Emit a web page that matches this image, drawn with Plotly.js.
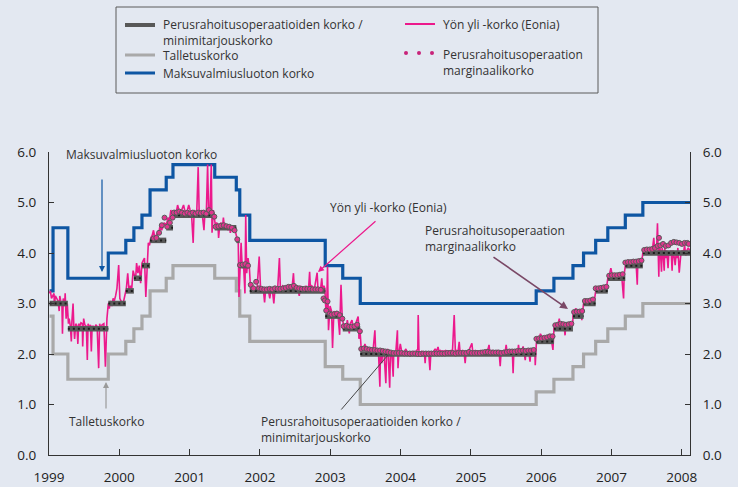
<!DOCTYPE html>
<html><head><meta charset="utf-8">
<script src="https://cdn.plot.ly/plotly-3.0.1.min.js"></script>
<style>html,body{margin:0;padding:0;background:#e3e8f1;}#chart{width:738px;height:487px;}</style>
</head><body><div id="chart"></div>
<script>
// ---------------- DATA ----------------
const yearTicks = ["1999-01-01","2000-01-01","2001-01-01","2002-01-01","2003-01-01","2004-01-01","2005-01-01","2006-01-01","2007-01-01","2008-01-01"];
const yearLabels = ["1999","2000","2001","2002","2003","2004","2005","2006","2007","2008"];
const rateTicks = [0,1,2,3,4,5,6];
const chartStart = "1999-01-01";
const chartEnd = "2008-02-13";

// Main refinancing rate (Perusrahoitusoperaatioiden korko / minimitarjouskorko)
const mroDates = ["1999-01-04","1999-04-09","1999-11-05","2000-02-04","2000-03-17","2000-04-28","2000-06-09","2000-09-01","2000-10-06","2001-05-11","2001-08-31","2001-09-18","2001-11-09","2002-12-06","2003-03-07","2003-06-06","2005-12-06","2006-03-08","2006-06-15","2006-08-09","2006-10-11","2006-12-13","2007-03-14","2007-06-13"];
const mroRates = [3.00,2.50,3.00,3.25,3.50,3.75,4.25,4.50,4.75,4.50,4.25,3.75,3.25,2.75,2.50,2.00,2.25,2.50,2.75,3.00,3.25,3.50,3.75,4.00];

// Deposit facility (Talletuskorko) and marginal lending facility (Maksuvalmiusluoton korko)
const corridorDates = ["1999-01-04","1999-01-22","1999-04-09","1999-11-05","2000-02-04","2000-03-17","2000-04-28","2000-06-09","2000-09-01","2000-10-06","2001-05-11","2001-08-31","2001-09-18","2001-11-09","2002-12-06","2003-03-07","2003-06-06","2005-12-06","2006-03-08","2006-06-15","2006-08-09","2006-10-11","2006-12-13","2007-03-14","2007-06-13"];
const depositRates = [2.75,2.00,1.50,2.00,2.25,2.50,2.75,3.25,3.50,3.75,3.50,3.25,2.75,2.25,1.75,1.50,1.00,1.25,1.50,1.75,2.00,2.25,2.50,2.75,3.00];
const lendingRates = [3.25,4.50,3.50,4.00,4.25,4.50,4.75,5.25,5.50,5.75,5.50,5.25,4.75,4.25,3.75,3.50,3.00,3.25,3.50,3.75,4.00,4.25,4.50,4.75,5.00];

// Eonia (Yön yli -korko)
const eonia = [
["1999-01-04",3.20],["1999-01-08",3.25],["1999-01-14",3.10],["1999-01-20",3.15],["1999-01-27",3.20],["1999-01-29",2.95],
["1999-02-03",3.15],["1999-02-10",3.10],["1999-02-17",3.05],["1999-02-23",2.85],["1999-02-26",3.15],
["1999-03-03",3.05],["1999-03-09",3.00],["1999-03-12",2.40],["1999-03-16",3.10],["1999-03-23",2.95],["1999-03-26",3.20],["1999-03-31",2.70],
["1999-04-06",3.00],["1999-04-12",2.60],["1999-04-16",2.70],["1999-04-22",2.55],["1999-04-27",2.25],["1999-04-30",2.65],
["1999-05-06",3.00],["1999-05-10",2.55],["1999-05-14",2.30],["1999-05-20",2.60],["1999-05-26",2.55],["1999-05-31",2.20],
["1999-06-04",2.60],["1999-06-10",2.55],["1999-06-16",2.62],["1999-06-23",2.60],["1999-06-25",2.15],["1999-06-30",2.70],
["1999-07-06",2.58],["1999-07-14",2.55],["1999-07-19",1.88],["1999-07-23",2.60],["1999-07-30",2.50],
["1999-08-04",2.58],["1999-08-09",2.05],["1999-08-13",2.55],["1999-08-20",2.55],["1999-08-27",2.50],
["1999-09-01",2.58],["1999-09-08",2.55],["1999-09-16",1.72],["1999-09-21",2.60],["1999-09-28",2.50],
["1999-10-04",2.58],["1999-10-13",2.60],["1999-10-21",1.75],["1999-10-25",2.55],["1999-10-29",2.70],
["1999-11-05",3.00],["1999-11-10",2.90],["1999-11-17",3.05],["1999-11-24",2.95],["1999-11-30",3.10],
["1999-12-06",3.05],["1999-12-13",3.15],["1999-12-20",3.30],["1999-12-29",3.76],
["2000-01-04",3.10],["2000-01-10",3.05],["2000-01-17",3.00],["2000-01-24",3.05],["2000-01-31",3.20],
["2000-02-07",3.30],["2000-02-14",3.60],["2000-02-21",3.25],["2000-02-28",3.35],
["2000-03-06",3.30],["2000-03-13",3.65],["2000-03-20",3.55],["2000-03-27",3.55],["2000-03-31",3.80],
["2000-04-07",3.60],["2000-04-14",3.75],["2000-04-21",3.40],["2000-04-28",3.80],
["2000-05-04",3.85],["2000-05-11",3.90],["2000-05-18",3.13],["2000-05-25",3.90],["2000-05-31",4.20],
["2000-06-06",4.15],["2000-06-13",4.30],["2000-06-20",4.35],["2000-06-27",4.45],
["2000-07-04",4.30],["2000-07-11",4.35],["2000-07-18",4.40],["2000-07-25",4.40],["2000-07-31",4.55],
["2000-08-07",4.45],["2000-08-14",4.50],["2000-08-21",4.60],["2000-08-28",4.55],
["2000-09-04",4.60],["2000-09-11",4.70],["2000-09-18",4.65],["2000-09-25",4.85],
["2000-10-02",4.75],["2000-10-09",4.80],["2000-10-16",4.85],["2000-10-23",4.80],["2000-10-30",4.95],
["2000-11-06",4.85],["2000-11-13",4.80],["2000-11-20",4.85],["2000-11-27",4.90],["2000-11-30",4.95],
["2000-12-06",4.85],["2000-12-13",4.80],["2000-12-20",4.85],["2000-12-27",4.95],
["2001-01-03",4.85],["2001-01-10",4.80],["2001-01-19",4.20],["2001-01-24",4.85],["2001-01-31",4.80],
["2001-02-07",4.85],["2001-02-14",5.70],["2001-02-19",4.85],["2001-02-26",4.80],
["2001-03-05",4.85],["2001-03-16",4.45],["2001-03-21",4.80],["2001-03-28",4.75],
["2001-04-04",5.75],["2001-04-09",4.85],["2001-04-17",4.90],["2001-04-23",5.75],["2001-04-27",4.40],
["2001-05-04",4.85],["2001-05-14",4.55],["2001-05-21",4.60],["2001-05-28",4.55],["2001-05-31",4.30],
["2001-06-06",4.55],["2001-06-13",4.60],["2001-06-20",4.50],["2001-06-25",4.70],["2001-06-29",4.55],
["2001-07-05",4.50],["2001-07-12",4.55],["2001-07-19",4.45],["2001-07-26",4.55],["2001-07-31",4.40],
["2001-08-07",4.50],["2001-08-14",4.55],["2001-08-21",4.45],["2001-08-28",4.40],
["2001-09-03",4.30],["2001-09-10",4.25],["2001-09-14",3.13],["2001-09-20",3.80],["2001-09-25",4.20],
["2001-10-01",3.70],["2001-10-08",3.75],["2001-10-15",3.20],["2001-10-19",4.75],["2001-10-24",3.60],["2001-10-31",3.90],
["2001-11-07",3.70],["2001-11-13",3.30],["2001-11-20",3.25],["2001-11-27",3.35],
["2001-12-04",3.30],["2001-12-11",3.25],["2001-12-18",3.35],["2001-12-28",3.93],
["2002-01-04",3.30],["2002-01-11",3.25],["2002-01-18",3.30],["2002-01-25",3.02],["2002-01-31",3.30],
["2002-02-07",3.28],["2002-02-14",3.25],["2002-02-21",3.10],["2002-02-28",3.30],
["2002-03-07",3.25],["2002-03-14",3.00],["2002-03-20",3.30],["2002-03-27",3.25],
["2002-04-03",3.30],["2002-04-12",3.90],["2002-04-17",3.30],["2002-04-22",3.28],["2002-04-29",3.35],
["2002-05-06",3.32],["2002-05-13",3.30],["2002-05-20",3.30],["2002-05-27",3.35],
["2002-06-03",3.30],["2002-06-10",3.35],["2002-06-17",3.32],["2002-06-24",3.60],["2002-06-28",3.30],
["2002-07-03",3.32],["2002-07-10",3.35],["2002-07-17",3.30],["2002-07-24",3.15],["2002-07-31",3.35],
["2002-08-07",3.30],["2002-08-14",3.32],["2002-08-21",3.30],["2002-08-28",3.35],
["2002-09-04",3.30],["2002-09-11",3.32],["2002-09-16",3.63],["2002-09-20",3.30],["2002-09-27",3.35],
["2002-10-04",3.32],["2002-10-11",3.30],["2002-10-25",3.61],["2002-10-29",3.30],
["2002-11-06",3.30],["2002-11-13",3.32],["2002-11-18",3.50],["2002-11-22",3.30],["2002-11-29",3.35],
["2002-12-04",3.30],["2002-12-09",2.90],["2002-12-13",2.85],["2002-12-18",3.73],["2002-12-23",2.47],["2002-12-31",2.95],
["2003-01-08",2.85],["2003-01-13",2.12],["2003-01-20",2.85],["2003-01-27",2.80],
["2003-02-03",2.85],["2003-02-10",2.80],["2003-02-19",2.38],["2003-02-22",2.85],["2003-02-26",3.37],
["2003-03-04",2.75],["2003-03-10",2.60],["2003-03-17",2.55],["2003-03-24",2.50],["2003-03-31",2.67],
["2003-04-04",2.55],["2003-04-10",2.41],["2003-04-15",2.60],["2003-04-24",2.67],["2003-04-29",2.55],
["2003-05-06",2.55],["2003-05-13",2.60],["2003-05-26",2.74],["2003-05-29",2.55],["2003-05-30",2.30],
["2003-06-05",2.45],["2003-06-11",2.10],["2003-06-18",2.15],["2003-06-25",2.10],["2003-06-30",2.20],
["2003-07-07",2.10],["2003-07-14",2.05],["2003-07-21",2.10],["2003-07-28",2.05],
["2003-08-04",2.10],["2003-08-11",2.05],["2003-08-21",2.47],["2003-08-25",2.05],
["2003-09-01",2.05],["2003-09-08",2.10],["2003-09-16",1.35],["2003-09-19",2.05],["2003-09-26",1.82],["2003-09-30",2.05],
["2003-10-07",2.05],["2003-10-17",1.42],["2003-10-21",2.05],["2003-10-28",2.10],
["2003-11-06",1.33],["2003-11-10",2.05],["2003-11-17",2.00],["2003-11-24",1.55],["2003-11-27",2.05],
["2003-12-01",2.00],["2003-12-08",2.05],["2003-12-16",2.47],["2003-12-19",1.72],["2003-12-23",2.00],["2003-12-31",2.20],
["2004-01-07",2.05],["2004-01-14",2.00],["2004-01-21",2.05],["2004-01-29",2.10],
["2004-02-05",2.02],["2004-02-12",2.05],["2004-02-20",1.95],["2004-02-25",2.05],
["2004-03-03",2.02],["2004-03-10",2.05],["2004-03-17",2.02],["2004-03-24",2.05],["2004-03-31",2.10],
["2004-04-02",2.77],["2004-04-06",2.05],["2004-04-13",2.02],["2004-04-20",2.05],["2004-04-27",2.00],
["2004-05-04",2.05],["2004-05-08",1.82],["2004-05-12",2.05],["2004-05-19",2.02],["2004-05-26",2.05],
["2004-06-02",1.68],["2004-06-07",2.05],["2004-06-14",2.03],["2004-06-21",2.05],["2004-06-29",2.10],
["2004-07-06",2.05],["2004-07-14",2.14],["2004-07-19",2.05],["2004-07-26",2.07],
["2004-08-02",2.05],["2004-08-09",2.06],["2004-08-16",2.05],["2004-08-23",2.07],["2004-08-30",2.05],
["2004-09-06",2.06],["2004-09-13",2.05],["2004-09-20",2.07],["2004-09-27",2.05],
["2004-10-06",2.77],["2004-10-09",2.06],["2004-10-12",2.05],["2004-10-19",2.07],["2004-10-26",2.05],
["2004-11-01",2.24],["2004-11-05",2.06],["2004-11-12",2.05],["2004-11-19",2.07],["2004-11-26",2.05],
["2004-12-02",1.82],["2004-12-07",2.06],["2004-12-14",2.05],["2004-12-21",2.07],["2004-12-31",2.15],
["2005-01-06",2.21],["2005-01-10",2.06],["2005-01-17",2.05],["2005-01-24",2.07],["2005-01-31",2.05],
["2005-02-07",2.06],["2005-02-14",2.05],["2005-02-21",2.07],["2005-02-28",2.05],
["2005-03-07",2.06],["2005-03-14",2.05],["2005-03-21",2.07],["2005-03-31",2.10],
["2005-04-05",2.18],["2005-04-08",2.06],["2005-04-15",2.05],["2005-04-22",2.07],["2005-04-29",2.05],
["2005-05-06",2.06],["2005-05-13",2.05],["2005-05-20",2.07],["2005-05-27",2.05],
["2005-06-02",1.76],["2005-06-07",2.06],["2005-06-14",2.05],["2005-06-21",2.07],["2005-06-28",2.05],
["2005-07-03",2.18],["2005-07-07",2.06],["2005-07-14",2.05],["2005-07-21",2.07],["2005-07-28",2.05],
["2005-08-04",2.06],["2005-08-08",1.62],["2005-08-12",2.06],["2005-08-19",2.05],["2005-08-26",2.07],
["2005-09-02",2.05],["2005-09-05",2.18],["2005-09-09",2.06],["2005-09-16",2.05],["2005-09-23",2.07],["2005-09-29",2.15],
["2005-10-03",2.06],["2005-10-10",1.88],["2005-10-14",2.06],["2005-10-21",2.07],["2005-10-28",2.06],
["2005-11-04",1.85],["2005-11-08",2.07],["2005-11-15",2.06],["2005-11-22",2.08],["2005-11-29",2.10],
["2005-12-01",1.78],["2005-12-05",2.05],["2005-12-08",2.30],["2005-12-14",2.28],["2005-12-21",2.30],["2005-12-28",2.40],
["2006-01-04",2.35],["2006-01-11",2.30],["2006-01-18",2.32],["2006-01-25",2.30],
["2006-02-01",2.35],["2006-02-08",2.30],["2006-02-15",2.32],["2006-02-22",2.30],
["2006-03-03",2.08],["2006-03-06",2.30],["2006-03-09",2.55],["2006-03-16",2.58],["2006-03-22",2.60],["2006-03-29",2.58],
["2006-04-05",2.70],["2006-04-07",2.60],["2006-04-14",2.60],["2006-04-21",2.55],["2006-04-28",2.62],
["2006-05-05",2.37],["2006-05-09",2.60],["2006-05-16",2.58],["2006-05-23",2.60],["2006-05-30",2.62],
["2006-06-06",2.58],["2006-06-13",2.55],["2006-06-16",2.82],["2006-06-23",2.85],["2006-06-30",2.90],
["2006-07-07",2.82],["2006-07-14",2.85],["2006-07-21",2.82],["2006-07-28",2.85],["2006-07-31",2.67],
["2006-08-04",2.85],["2006-08-09",3.00],["2006-08-16",3.05],["2006-08-23",3.08],["2006-08-30",3.05],
["2006-09-06",3.07],["2006-09-13",3.05],["2006-09-20",3.08],["2006-09-27",3.10],
["2006-10-04",3.05],["2006-10-11",3.25],["2006-10-18",3.30],["2006-10-25",3.32],
["2006-11-01",3.30],["2006-11-08",3.32],["2006-11-15",3.30],["2006-11-22",3.32],["2006-11-29",3.35],
["2006-12-06",3.30],["2006-12-13",3.50],["2006-12-20",3.55],["2006-12-29",3.70],
["2007-01-05",3.56],["2007-01-12",3.55],["2007-01-19",3.58],["2007-01-26",3.56],
["2007-02-02",3.57],["2007-02-09",3.56],["2007-02-16",3.58],["2007-02-23",3.55],
["2007-03-05",3.10],["2007-03-08",3.57],["2007-03-14",3.75],["2007-03-21",3.82],["2007-03-28",3.85],
["2007-04-04",3.82],["2007-04-11",3.80],["2007-04-18",3.82],["2007-04-25",3.85],
["2007-05-02",3.82],["2007-05-09",3.80],["2007-05-15",3.37],["2007-05-18",3.82],["2007-05-25",3.85],
["2007-06-01",3.82],["2007-06-08",3.85],["2007-06-13",4.00],["2007-06-20",4.07],["2007-06-27",4.10],
["2007-07-04",4.07],["2007-07-11",4.05],["2007-07-18",4.08],["2007-07-25",4.10],
["2007-08-01",4.05],["2007-08-09",4.30],["2007-08-13",4.05],["2007-08-20",4.10],["2007-08-24",4.15],["2007-08-28",4.59],["2007-08-31",4.10],
["2007-09-04",3.53],["2007-09-07",4.15],["2007-09-12",4.05],["2007-09-18",3.63],["2007-09-21",4.10],["2007-09-26",4.00],
["2007-10-02",3.65],["2007-10-05",4.10],["2007-10-10",3.90],["2007-10-15",4.05],["2007-10-22",3.70],["2007-10-26",4.00],
["2007-11-01",3.95],["2007-11-07",4.05],["2007-11-12",3.65],["2007-11-16",4.05],["2007-11-22",3.95],["2007-11-28",3.76],
["2007-12-03",4.00],["2007-12-07",3.90],["2007-12-12",4.10],["2007-12-19",3.61],["2007-12-24",3.85],["2007-12-28",4.00],
["2008-01-04",4.05],["2008-01-10",4.00],["2008-01-16",4.15],["2008-01-22",3.95],["2008-01-28",4.05],["2008-02-04",4.10],["2008-02-12",4.05]
];

// Marginal rate of main refinancing operations (Perusrahoitusoperaation marginaalikorko)
const marginalRate = [
["2000-06-28",4.29],["2000-07-12",4.30],["2000-07-26",4.40],["2000-08-09",4.55],["2000-08-23",4.70],["2000-09-06",4.52],["2000-09-20",4.60],["2000-10-04",4.70],["2000-10-11",4.80],["2000-10-25",4.80],["2000-11-08",4.82],["2000-11-22",4.80],["2000-12-06",4.78],["2000-12-20",4.80],
["2001-01-03",4.78],["2001-01-17",4.80],["2001-01-31",4.78],["2001-02-14",4.80],["2001-02-28",4.79],["2001-03-14",4.80],["2001-03-28",4.78],["2001-04-11",4.85],["2001-04-25",4.80],["2001-05-09",4.72],["2001-05-16",4.52],["2001-05-30",4.53],["2001-06-13",4.54],["2001-06-27",4.55],["2001-07-11",4.53],["2001-07-25",4.52],["2001-08-08",4.50],["2001-08-22",4.45],["2001-09-05",4.27],["2001-09-19",3.76],["2001-10-03",3.77],["2001-10-17",3.78],["2001-10-31",3.75],["2001-11-14",3.37],["2001-11-28",3.30],["2001-12-12",3.43],["2001-12-27",3.30],
["2002-01-09",3.29],["2002-01-23",3.28],["2002-02-06",3.28],["2002-02-20",3.29],["2002-03-06",3.28],["2002-03-20",3.30],["2002-04-03",3.29],["2002-04-17",3.29],["2002-05-02",3.30],["2002-05-15",3.31],["2002-05-29",3.33],["2002-06-12",3.33],["2002-06-26",3.35],["2002-07-10",3.31],["2002-07-24",3.30],["2002-08-07",3.29],["2002-08-21",3.29],["2002-09-04",3.29],["2002-09-18",3.29],["2002-10-02",3.28],["2002-10-16",3.28],["2002-10-30",3.28],["2002-11-13",3.27],["2002-11-27",3.10],["2002-12-04",3.06],["2002-12-11",2.86],["2002-12-18",3.04],["2002-12-30",2.80],
["2003-01-08",2.78],["2003-01-22",2.79],["2003-02-05",2.80],["2003-02-19",2.77],["2003-03-05",2.70],["2003-03-12",2.55],["2003-03-26",2.56],["2003-04-09",2.54],["2003-04-23",2.54],["2003-05-07",2.55],["2003-05-21",2.58],["2003-06-04",2.45],["2003-06-11",2.10],["2003-06-25",2.11],["2003-07-09",2.10],["2003-07-23",2.09],["2003-08-06",2.08],["2003-08-20",2.08],["2003-09-03",2.07],["2003-09-17",2.07],["2003-10-01",2.06],["2003-10-15",2.05],["2003-10-29",2.04],["2003-11-12",2.03],["2003-11-26",2.02],["2003-12-10",2.02],["2003-12-23",2.02],
["2004-01-07",2.02],["2004-01-21",2.01],["2004-02-04",2.01],["2004-02-18",2.01],["2004-03-03",2.01],["2004-03-17",2.01],["2004-03-31",2.00],["2004-04-14",2.00],["2004-04-28",2.01],["2004-05-12",2.01],["2004-05-26",2.01],["2004-06-09",2.01],["2004-06-23",2.01],["2004-07-07",2.01],["2004-07-21",2.01],["2004-08-04",2.01],["2004-08-18",2.01],["2004-09-01",2.02],["2004-09-15",2.02],["2004-09-29",2.02],["2004-10-13",2.01],["2004-10-27",2.02],["2004-11-10",2.02],["2004-11-24",2.02],["2004-12-08",2.02],["2004-12-22",2.04],
["2005-01-05",2.02],["2005-01-19",2.02],["2005-02-02",2.02],["2005-02-16",2.02],["2005-03-02",2.03],["2005-03-16",2.04],["2005-03-30",2.04],["2005-04-13",2.03],["2005-04-27",2.03],["2005-05-11",2.03],["2005-05-25",2.03],["2005-06-08",2.02],["2005-06-22",2.03],["2005-07-06",2.04],["2005-07-20",2.05],["2005-08-03",2.05],["2005-08-17",2.05],["2005-08-31",2.06],["2005-09-14",2.06],["2005-09-28",2.07],["2005-10-12",2.06],["2005-10-26",2.07],["2005-11-09",2.07],["2005-11-23",2.08],["2005-12-07",2.30],["2005-12-21",2.31],
["2006-01-04",2.31],["2006-01-18",2.32],["2006-02-01",2.33],["2006-02-15",2.35],["2006-03-01",2.35],["2006-03-15",2.57],["2006-03-29",2.58],["2006-04-12",2.60],["2006-04-26",2.59],["2006-05-10",2.58],["2006-05-24",2.59],["2006-06-07",2.60],["2006-06-21",2.83],["2006-07-05",2.84],["2006-07-19",2.84],["2006-08-02",2.85],["2006-08-16",3.05],["2006-08-30",3.05],["2006-09-13",3.06],["2006-09-27",3.08],["2006-10-11",3.30],["2006-10-25",3.30],["2006-11-08",3.31],["2006-11-22",3.32],["2006-12-06",3.33],["2006-12-20",3.55],
["2007-01-03",3.56],["2007-01-17",3.56],["2007-01-31",3.56],["2007-02-14",3.57],["2007-02-28",3.58],["2007-03-14",3.81],["2007-03-28",3.82],["2007-04-11",3.82],["2007-04-25",3.83],["2007-05-09",3.83],["2007-05-23",3.84],["2007-06-06",3.85],["2007-06-20",4.06],["2007-07-04",4.07],["2007-07-18",4.07],["2007-08-01",4.08],["2007-08-15",4.10],["2007-08-29",4.14],["2007-09-05",4.30],["2007-09-12",4.15],["2007-09-26",4.18],["2007-10-10",4.14],["2007-10-24",4.15],["2007-11-07",4.20],["2007-11-21",4.22],["2007-12-05",4.21],["2007-12-19",4.20],
["2008-01-02",4.18],["2008-01-16",4.20],["2008-01-30",4.20],["2008-02-06",4.18]
];

// ---------------- STYLE / LAYOUT ----------------
const C = {mro:'#585858', dep:'#a9a9a9', mlf:'#0e56a3', eonia:'#ec198c', marg:'#e0358f', margArrow:'#7a4866', text:'#333333', axis:'#333333', bg:'#e3e8f1'};
const PL=49, PR=690, PT=152, PB=455;
const px = x => (x-PL)/(PR-PL);
const py = y => (PB-y)/(PB-PT);

function stepXY(dates, vals){
  return {x: dates.concat([chartEnd]), y: vals.concat([vals[vals.length-1]])};
}
// MRO as separate horizontal segments
const mroX=[], mroY=[];
for(let i=0;i<mroDates.length;i++){
  const end = i<mroDates.length-1 ? mroDates[i+1] : chartEnd;
  mroX.push(mroDates[i], end, null);
  mroY.push(mroRates[i], mroRates[i], null);
}
const dep = stepXY(corridorDates, depositRates);
const mlf = stepXY(corridorDates, lendingRates);

const traces = [
  {x:dep.x, y:dep.y, mode:'lines', line:{shape:'hv', color:C.dep, width:3.2}, hoverinfo:'skip'},
  {x:mlf.x, y:mlf.y, mode:'lines', line:{shape:'hv', color:C.mlf, width:3.2}, hoverinfo:'skip'},
  {x:eonia.map(d=>d[0]), y:eonia.map(d=>d[1]), mode:'lines', line:{color:C.eonia, width:1.6}, hoverinfo:'skip'},
  {x:mroX, y:mroY, mode:'lines', line:{color:C.mro, width:5.5}, connectgaps:false, hoverinfo:'skip'},
  {x:mroX, y:mroY, mode:'lines', line:{color:'#1c1c1c', width:2, dash:'2px,3px'}, connectgaps:false, hoverinfo:'skip'},
  {x:marginalRate.map(d=>d[0]), y:marginalRate.map(d=>d[1]), mode:'markers', marker:{size:5, color:C.marg, line:{color:'#5a5a5a', width:1}}, hoverinfo:'skip'},
  {x:dep.x, y:dep.y, yaxis:'y2', mode:'lines', line:{width:0}, opacity:0, hoverinfo:'skip'}
];

const fontFam = 'Open Sans, sans-serif';
const txt = (t, x, y) => ({xref:'paper', yref:'paper', x:px(x), y:py(y), text:t, showarrow:false,
  xanchor:'left', yanchor:'middle', align:'left', font:{family:fontFam, size:12, color:C.text}});
const arrow = (hx, hy, tx, ty, color, head, width) => ({xref:'paper', yref:'paper', x:px(hx), y:py(hy),
  axref:'pixel', ayref:'pixel', ax:tx-hx, ay:ty-hy, text:'', showarrow:true, arrowhead:head, arrowsize:1,
  arrowwidth:width||1.2, arrowcolor:color});

const annotations = [
  // legend texts
  txt('Perusrahoitusoperaatioiden korko /<br>minimitarjouskorko', 161, 32.5),
  txt('Talletuskorko', 161, 55),
  txt('Maksuvalmiusluoton korko', 161, 73),
  txt('Yön yli -korko (Eonia)', 441, 25),
  txt('Perusrahoitusoperaation<br>marginaalikorko', 441, 62.5),
  // chart labels
  txt('Maksuvalmiusluoton korko', 64, 154),
  txt('Talletuskorko', 67, 421),
  txt('Yön yli -korko (Eonia)', 328, 207),
  txt('Perusrahoitusoperaation<br>marginaalikorko', 423, 238.5),
  txt('Perusrahoitusoperaatioiden korko /<br>minimitarjouskorko', 259, 429),
  // arrows
  arrow(102, 272, 102, 178, C.mlf, 2, 1.2),
  arrow(106, 382, 106, 410, '#9a9a9a', 2, 1.2),
  arrow(318, 272, 377, 220, C.eonia, 2, 1.2),
  arrow(568, 309, 492, 256, C.margArrow, 2, 1.6),
  arrow(388, 355, 340, 411, '#444444', 0, 1)
];

const shapes = [
  {type:'rect', xref:'paper', yref:'paper', x0:px(116), x1:px(598), y0:py(93), y1:py(7), line:{color:'#5a5a5a', width:1}, fillcolor:'rgba(0,0,0,0)'},
  {type:'line', xref:'paper', yref:'paper', x0:px(125), x1:px(155), y0:py(25), y1:py(25), line:{color:C.mro, width:4}},
  {type:'line', xref:'paper', yref:'paper', x0:px(125), x1:px(155), y0:py(55), y1:py(55), line:{color:C.dep, width:3}},
  {type:'line', xref:'paper', yref:'paper', x0:px(125), x1:px(155), y0:py(73), y1:py(73), line:{color:C.mlf, width:3}},
  {type:'line', xref:'paper', yref:'paper', x0:px(405), x1:px(435), y0:py(24), y1:py(24), line:{color:C.eonia, width:2}}
];
[406, 419, 432].forEach(cx => shapes.push({type:'circle', xref:'paper', yref:'paper',
  x0:px(cx-2), x1:px(cx+2), y0:py(55), y1:py(51), fillcolor:'#c8237a', line:{width:0}}));

const yAxisBase = {range:[0,6], tickvals:rateTicks, tickformat:'.1f', ticks:'inside', ticklen:5, tickcolor:C.axis,
  showline:true, linecolor:C.axis, linewidth:1, showgrid:false, zeroline:false, fixedrange:true,
  tickfont:{family:fontFam, size:13.5, color:'#222'}, ticklabelstandoff:9};

const layout = {
  width:738, height:487,
  margin:{l:PL, r:738-PR, t:PT, b:487-PB},
  paper_bgcolor:C.bg, plot_bgcolor:C.bg,
  showlegend:false,
  font:{family:fontFam, size:12, color:C.text},
  xaxis:{type:'date', range:[chartStart, chartEnd], tickvals:yearTicks, ticktext:yearLabels,
    ticks:'inside', ticklen:6, tickcolor:C.axis, showline:true, linecolor:C.axis, linewidth:1,
    showgrid:false, zeroline:false, tickfont:{family:fontFam, size:13.5, color:'#222'}, ticklabelstandoff:10},
  yaxis: Object.assign({side:'left'}, yAxisBase),
  yaxis2: Object.assign({side:'right', overlaying:'y'}, yAxisBase),
  annotations, shapes
};

Plotly.newPlot('chart', traces, layout, {staticPlot:true, displayModeBar:false});
</script>
</body></html>
